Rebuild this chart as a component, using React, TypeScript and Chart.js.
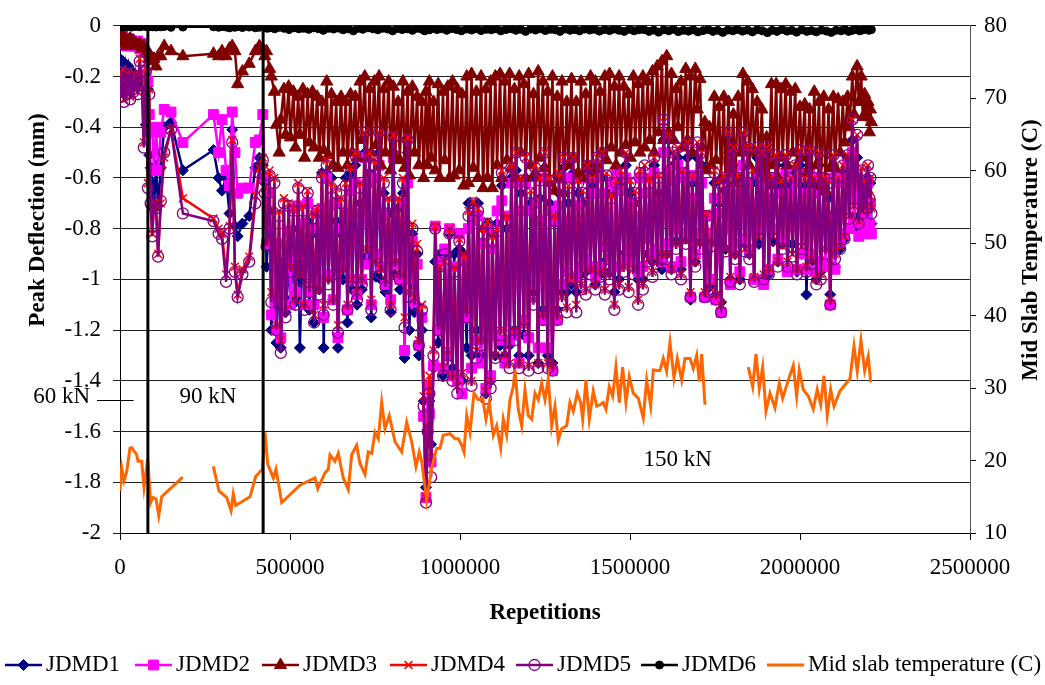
import React, { useEffect, useRef } from 'react';
import { Chart, registerables } from 'chart.js';
import { drawPoint } from 'chart.js/helpers';

Chart.register(...registerables);

const FONT = "'Liberation Serif', 'Times New Roman', serif";

// ---- Data ----
// Repetitions (in thousands) at which JDMD1..JDMD5 were read
const deflRepsThousands = [
  0, 4, 8, 12, 16, 20, 25, 30, 35, 40,
  46, 52, 58, 64, 70, 76, 82, 86, 90, 95,
  100, 106, 112, 120, 130, 150, 185, 275, 290, 300,
  312, 322, 330, 338, 346, 360, 380, 398, 410, 420,
  426, 431, 440, 445, 454, 460, 468, 473, 482, 487,
  496, 501, 510, 516, 524, 529, 538, 543, 552, 557,
  566, 571, 580, 586, 594, 599, 608, 613, 622, 627,
  636, 641, 650, 656, 664, 669, 678, 683, 692, 697,
  706, 711, 720, 726, 734, 739, 748, 753, 762, 767,
  776, 781, 790, 796, 804, 809, 818, 823, 832, 837,
  846, 851, 860, 866, 874, 879, 888, 893, 900, 905,
  910, 915, 922, 927, 936, 941, 950, 955, 964, 969,
  978, 983, 992, 998, 1006, 1011, 1020, 1025, 1034, 1039,
  1048, 1053, 1062, 1068, 1076, 1081, 1090, 1095, 1104, 1109,
  1118, 1123, 1132, 1138, 1146, 1151, 1160, 1165, 1174, 1179,
  1188, 1193, 1202, 1208, 1216, 1221, 1230, 1235, 1244, 1249,
  1258, 1263, 1272, 1278, 1286, 1291, 1300, 1305, 1314, 1319,
  1328, 1333, 1342, 1348, 1356, 1361, 1370, 1375, 1384, 1389,
  1398, 1403, 1412, 1418, 1426, 1431, 1440, 1445, 1454, 1459,
  1468, 1473, 1482, 1488, 1496, 1501, 1510, 1515, 1524, 1529,
  1538, 1543, 1552, 1558, 1566, 1571, 1580, 1585, 1594, 1599,
  1608, 1613, 1622, 1628, 1636, 1641, 1650, 1655, 1664, 1669,
  1678, 1683, 1692, 1698, 1706, 1711, 1720, 1725, 1734, 1739,
  1748, 1753, 1762, 1768, 1776, 1781, 1790, 1795, 1804, 1809,
  1818, 1823, 1832, 1838, 1846, 1851, 1860, 1865, 1874, 1879,
  1888, 1893, 1902, 1908, 1916, 1921, 1930, 1935, 1944, 1949,
  1958, 1963, 1972, 1978, 1986, 1991, 2000, 2005, 2014, 2019,
  2028, 2033, 2042, 2048, 2056, 2061, 2070, 2075, 2084, 2089,
  2098, 2103, 2112, 2118, 2126, 2131, 2140, 2145, 2154, 2159,
  2168, 2173, 2180, 2185, 2190, 2195, 2200, 2204, 2207, 2210,
];

const jdmd1 = [
  -0.13, -0.16, -0.14, -0.18, -0.15, -0.2, -0.16, -0.22, -0.18, -0.24,
  -0.2, -0.24, -0.19, -0.24, -0.22, -0.39, -0.25, -0.51, -0.56, -0.62,
  -0.72, -0.55, -0.71, -0.56, -0.4, -0.38, -0.57, -0.49, -0.6, -0.65,
  -0.6, -0.74, -0.41, -0.79, -0.83, -0.78, -0.75, -0.56, -0.52, -0.55,
  -0.62, -0.95, -0.73, -1.2, -0.95, -1.25, -0.93, -1.27, -0.98, -1.13,
  -0.93, -1.08, -0.9, -1.09, -0.8, -1.27, -0.78, -1.1, -0.77, -1.12,
  -0.82, -1.17, -0.9, -1.04, -0.58, -1.27, -0.58, -0.99, -0.6, -1.08,
  -0.77, -1.27, -0.82, -1.0, -0.6, -1.17, -0.58, -1.04, -0.55, -1.1,
  -0.7, -1.04, -0.5, -0.91, -0.58, -1.15, -0.6, -0.99, -0.5, -1.0,
  -0.66, -1.05, -0.74, -1.13, -0.5, -0.98, -0.72, -1.04, -0.66, -1.31,
  -0.5, -1.2, -0.82, -1.13, -0.9, -1.3, -1.2, -1.48, -1.82, -1.6,
  -1.48, -1.65, -1.35, -0.93, -1.25, -0.9, -1.38, -0.9, -1.3, -0.82,
  -1.35, -0.9, -1.4, -0.88, -1.4, -0.9, -1.27, -0.7, -1.3, -0.75,
  -1.2, -0.7, -1.3, -0.8, -1.45, -0.78, -1.4, -0.82, -1.3, -0.78,
  -1.26, -0.63, -1.3, -0.8, -1.26, -0.6, -1.2, -0.57, -1.3, -0.66,
  -1.22, -0.6, -1.3, -0.7, -1.05, -0.6, -1.33, -0.68, -1.12, -0.56,
  -1.3, -0.7, -1.33, -0.72, -1.12, -0.66, -1.05, -0.56, -1.05, -0.7,
  -1.02, -0.58, -1.05, -0.66, -0.98, -0.7, -0.97, -0.58, -0.96, -0.63,
  -1.02, -0.58, -0.98, -0.6, -0.93, -0.66, -0.97, -0.66, -1.05, -0.6,
  -1.0, -0.63, -0.9, -0.55, -0.93, -0.66, -0.9, -0.7, -1.0, -0.6,
  -1.0, -0.6, -0.9, -0.6, -0.93, -0.55, -0.9, -0.66, -0.96, -0.45,
  -0.9, -0.5, -0.96, -0.55, -0.85, -0.52, -0.96, -0.58, -0.84, -0.52,
  -1.08, -0.62, -0.93, -0.52, -0.85, -0.55, -1.06, -0.75, -1.03, -0.85,
  -0.62, -1.06, -0.7, -1.09, -0.65, -0.88, -0.5, -1.0, -0.55, -0.9,
  -0.6, -1.0, -0.5, -0.86, -0.55, -0.9, -0.62, -1.0, -0.52, -0.86,
  -0.55, -1.0, -0.52, -0.98, -0.63, -0.85, -0.55, -0.93, -0.63, -0.86,
  -0.55, -0.96, -0.63, -0.86, -0.58, -0.97, -0.55, -0.9, -0.63, -1.06,
  -0.55, -0.93, -0.63, -1.0, -0.55, -0.97, -0.62, -0.93, -0.68, -1.06,
  -0.55, -0.95, -0.62, -0.88, -0.58, -0.84, -0.52, -0.8, -0.45, -0.75,
  -0.52, -0.8, -0.62, -0.78, -0.66, -0.78, -0.6, -0.72, -0.62, -0.78,
];

const jdmd2 = [
  -0.05, -0.07, -0.04, -0.06, -0.05, -0.08, -0.05, -0.07, -0.06, -0.08,
  -0.08, -0.06, -0.09, -0.07, -0.1, -0.19, -0.22, -0.35, -0.42, -0.41,
  -0.57, -0.4, -0.57, -0.42, -0.33, -0.34, -0.46, -0.35, -0.5, -0.37,
  -0.57, -0.63, -0.34, -0.5, -0.66, -0.64, -0.64, -0.46, -0.45, -0.35,
  -0.6, -0.86, -0.66, -1.14, -0.9, -1.2, -0.86, -1.23, -0.95, -1.1,
  -0.81, -1.1, -0.72, -1.05, -0.71, -0.9, -0.78, -1.1, -0.7, -1.05,
  -0.8, -1.1, -0.74, -1.0, -0.72, -1.15, -0.6, -0.98, -0.71, -1.08,
  -0.7, -1.23, -0.8, -0.95, -0.74, -1.12, -0.65, -1.0, -0.62, -1.06,
  -0.74, -1.0, -0.52, -0.94, -0.62, -1.1, -0.6, -0.9, -0.55, -0.95,
  -0.75, -1.02, -0.8, -1.08, -0.52, -0.94, -0.78, -1.0, -0.7, -1.28,
  -0.62, -1.0, -0.85, -1.09, -0.94, -1.26, -1.15, -1.54, -1.86, -1.42,
  -1.53, -1.72, -1.34, -0.79, -1.2, -0.93, -1.35, -0.88, -1.3, -0.8,
  -1.38, -0.95, -1.4, -0.82, -1.45, -0.93, -1.15, -0.8, -1.35, -0.77,
  -1.24, -0.75, -1.33, -0.86, -1.43, -0.8, -1.38, -0.88, -1.22, -0.73,
  -1.24, -0.69, -1.33, -0.75, -1.24, -0.62, -1.22, -0.62, -1.33, -0.73,
  -1.16, -0.62, -1.23, -0.73, -1.02, -0.7, -1.27, -0.77, -1.16, -0.6,
  -1.27, -0.73, -1.36, -0.77, -1.16, -0.71, -1.02, -0.6, -0.97, -0.77,
  -0.99, -0.6, -0.99, -0.71, -0.95, -0.77, -0.92, -0.6, -0.95, -0.66,
  -0.99, -0.6, -0.95, -0.66, -0.87, -0.73, -0.92, -0.62, -0.95, -0.58,
  -0.95, -0.65, -0.92, -0.6, -0.88, -0.7, -0.93, -0.75, -0.97, -0.6,
  -0.95, -0.66, -0.84, -0.6, -0.9, -0.58, -0.88, -0.7, -0.93, -0.5,
  -0.86, -0.57, -0.95, -0.61, -0.8, -0.55, -0.93, -0.6, -0.82, -0.59,
  -1.07, -0.68, -0.9, -0.59, -0.82, -0.62, -1.07, -0.75, -1.0, -0.82,
  -0.68, -1.08, -0.74, -1.13, -0.68, -0.8, -0.53, -1.02, -0.58, -0.86,
  -0.66, -0.97, -0.55, -0.84, -0.62, -0.88, -0.7, -1.0, -0.58, -0.8,
  -0.6, -1.02, -0.53, -0.96, -0.68, -0.8, -0.6, -0.92, -0.66, -0.84,
  -0.58, -0.97, -0.66, -0.79, -0.62, -0.96, -0.58, -0.9, -0.66, -0.96,
  -0.58, -0.9, -0.66, -0.97, -0.6, -0.93, -0.65, -0.95, -0.75, -1.1,
  -0.6, -0.96, -0.62, -0.85, -0.6, -0.82, -0.55, -0.8, -0.5, -0.78,
  -0.6, -0.83, -0.68, -0.8, -0.72, -0.82, -0.62, -0.78, -0.7, -0.82,
];

const jdmd3 = [
  -0.05, -0.06, -0.04, -0.07, -0.05, -0.08, -0.06, -0.05, -0.07, -0.06,
  -0.07, -0.08, -0.07, -0.09, -0.08, -0.11, -0.1, -0.13, -0.12, -0.14,
  -0.13, -0.16, -0.12, -0.12, -0.08, -0.1, -0.12, -0.11, -0.12, -0.1,
  -0.12, -0.09, -0.08, -0.1, -0.23, -0.18, -0.15, -0.1, -0.08, -0.09,
  -0.12, -0.1, -0.17, -0.2, -0.26, -0.39, -0.5, -0.37, -0.25, -0.43,
  -0.24, -0.44, -0.26, -0.48, -0.28, -0.43, -0.25, -0.52, -0.27, -0.46,
  -0.26, -0.48, -0.28, -0.52, -0.3, -0.49, -0.22, -0.51, -0.27, -0.55,
  -0.3, -0.56, -0.28, -0.5, -0.3, -0.55, -0.27, -0.5, -0.28, -0.52,
  -0.22, -0.45, -0.2, -0.52, -0.25, -0.5, -0.22, -0.47, -0.2, -0.55,
  -0.25, -0.5, -0.22, -0.57, -0.24, -0.52, -0.3, -0.53, -0.22, -0.56,
  -0.26, -0.59, -0.24, -0.5, -0.28, -0.55, -0.3, -0.6, -0.26, -0.55,
  -0.22, -0.52, -0.3, -0.57, -0.23, -0.6, -0.26, -0.53, -0.24, -0.6,
  -0.22, -0.59, -0.25, -0.57, -0.27, -0.63, -0.2, -0.62, -0.19, -0.56,
  -0.26, -0.6, -0.2, -0.64, -0.25, -0.6, -0.22, -0.64, -0.2, -0.55,
  -0.19, -0.6, -0.22, -0.53, -0.19, -0.56, -0.25, -0.6, -0.2, -0.5,
  -0.23, -0.6, -0.19, -0.55, -0.27, -0.58, -0.18, -0.52, -0.22, -0.56,
  -0.26, -0.62, -0.2, -0.65, -0.28, -0.6, -0.22, -0.66, -0.3, -0.55,
  -0.21, -0.52, -0.3, -0.58, -0.22, -0.6, -0.27, -0.55, -0.2, -0.58,
  -0.22, -0.55, -0.26, -0.5, -0.2, -0.53, -0.19, -0.48, -0.24, -0.55,
  -0.2, -0.5, -0.24, -0.47, -0.27, -0.52, -0.2, -0.46, -0.23, -0.5,
  -0.2, -0.48, -0.22, -0.45, -0.18, -0.5, -0.16, -0.42, -0.14, -0.45,
  -0.12, -0.42, -0.19, -0.45, -0.25, -0.4, -0.22, -0.48, -0.17, -0.45,
  -0.2, -0.5, -0.17, -0.33, -0.21, -0.48, -0.38, -0.57, -0.4, -0.55,
  -0.28, -0.53, -0.32, -0.6, -0.28, -0.61, -0.3, -0.58, -0.35, -0.62,
  -0.28, -0.5, -0.19, -0.48, -0.22, -0.55, -0.25, -0.5, -0.3, -0.56,
  -0.33, -0.58, -0.44, -0.6, -0.23, -0.55, -0.23, -0.6, -0.25, -0.52,
  -0.23, -0.55, -0.26, -0.5, -0.25, -0.55, -0.32, -0.52, -0.31, -0.58,
  -0.33, -0.61, -0.26, -0.55, -0.3, -0.63, -0.28, -0.65, -0.33, -0.56,
  -0.28, -0.56, -0.29, -0.5, -0.3, -0.46, -0.28, -0.4, -0.2, -0.35,
  -0.16, -0.3, -0.2, -0.36, -0.27, -0.35, -0.3, -0.42, -0.33, -0.38,
];

const jdmd4 = [
  -0.19, -0.27, -0.17, -0.29, -0.21, -0.26, -0.18, -0.28, -0.2, -0.25,
  -0.19, -0.26, -0.13, -0.21, -0.46, -0.17, -0.62, -0.25, -0.72, -0.82,
  -0.7, -0.71, -0.9, -0.7, -0.52, -0.41, -0.68, -0.76, -0.8, -0.82,
  -0.98, -0.79, -0.45, -0.95, -1.06, -0.96, -0.91, -0.67, -0.56, -0.52,
  -0.64, -0.85, -0.57, -1.05, -0.6, -1.18, -0.73, -1.24, -0.68, -1.12,
  -0.7, -0.95, -0.72, -1.08, -0.62, -0.98, -0.71, -1.1, -0.65, -1.02,
  -0.74, -1.14, -0.72, -1.04, -0.58, -1.1, -0.53, -1.0, -0.62, -1.08,
  -0.64, -1.18, -0.68, -0.96, -0.62, -1.1, -0.56, -1.0, -0.5, -1.05,
  -0.62, -1.0, -0.42, -0.88, -0.5, -1.08, -0.53, -0.93, -0.42, -0.96,
  -0.6, -1.0, -0.68, -1.1, -0.43, -0.93, -0.68, -0.98, -0.6, -1.15,
  -0.44, -1.05, -0.78, -1.07, -0.86, -1.24, -1.1, -1.46, -1.86, -1.58,
  -1.38, -1.7, -1.28, -0.79, -1.08, -0.95, -1.35, -0.93, -1.28, -0.8,
  -1.38, -0.95, -1.42, -0.84, -1.37, -0.9, -1.12, -0.73, -1.4, -0.69,
  -1.28, -0.72, -1.24, -0.8, -1.44, -0.77, -1.4, -0.83, -1.3, -0.8,
  -1.2, -0.57, -1.3, -0.75, -1.33, -0.55, -1.2, -0.5, -1.33, -0.6,
  -1.18, -0.52, -1.34, -0.65, -1.08, -0.55, -1.33, -0.6, -1.14, -0.5,
  -1.33, -0.6, -1.34, -0.75, -1.14, -0.58, -1.07, -0.52, -1.11, -0.63,
  -1.0, -0.52, -1.1, -0.61, -1.02, -0.65, -1.04, -0.55, -0.96, -0.6,
  -1.02, -0.52, -0.97, -0.5, -1.04, -0.58, -0.98, -0.67, -1.1, -0.61,
  -1.02, -0.57, -0.95, -0.5, -1.03, -0.61, -0.96, -0.65, -1.08, -0.57,
  -1.02, -0.55, -0.92, -0.6, -0.97, -0.52, -0.93, -0.59, -0.9, -0.38,
  -0.9, -0.43, -0.96, -0.5, -0.86, -0.48, -0.98, -0.57, -0.85, -0.46,
  -1.05, -0.59, -0.93, -0.46, -0.86, -0.5, -1.05, -0.74, -1.03, -0.86,
  -0.57, -1.06, -0.61, -1.1, -0.59, -0.88, -0.42, -0.99, -0.48, -0.9,
  -0.59, -1.0, -0.42, -0.88, -0.48, -0.9, -0.57, -0.99, -0.48, -0.83,
  -0.5, -0.98, -0.48, -0.96, -0.6, -0.83, -0.51, -0.93, -0.61, -0.87,
  -0.51, -0.93, -0.6, -0.9, -0.55, -0.96, -0.49, -0.87, -0.6, -0.95,
  -0.49, -0.92, -0.6, -1.0, -0.5, -0.98, -0.6, -0.88, -0.61, -1.08,
  -0.51, -0.9, -0.6, -0.87, -0.55, -0.83, -0.51, -0.75, -0.37, -0.71,
  -0.43, -0.77, -0.56, -0.73, -0.61, -0.71, -0.55, -0.67, -0.6, -0.72,
];

const jdmd5 = [
  -0.2, -0.28, -0.18, -0.3, -0.22, -0.27, -0.19, -0.29, -0.21, -0.26,
  -0.2, -0.27, -0.14, -0.22, -0.48, -0.18, -0.64, -0.27, -0.7, -0.83,
  -0.69, -0.72, -0.91, -0.69, -0.5, -0.41, -0.74, -0.77, -0.82, -0.84,
  -1.01, -0.8, -0.46, -0.97, -1.07, -0.98, -0.93, -0.7, -0.58, -0.53,
  -0.66, -0.87, -0.59, -1.09, -0.62, -1.2, -0.75, -1.29, -0.7, -1.15,
  -0.71, -0.97, -0.73, -1.1, -0.64, -1.0, -0.73, -1.12, -0.66, -1.05,
  -0.76, -1.17, -0.73, -1.06, -0.6, -1.14, -0.55, -1.02, -0.64, -1.1,
  -0.66, -1.21, -0.7, -0.98, -0.63, -1.12, -0.58, -1.03, -0.51, -1.08,
  -0.64, -1.02, -0.42, -0.9, -0.51, -1.12, -0.55, -0.95, -0.42, -0.98,
  -0.62, -1.03, -0.7, -1.12, -0.44, -0.95, -0.7, -1.0, -0.62, -1.19,
  -0.45, -1.07, -0.8, -1.1, -0.89, -1.26, -1.12, -1.5, -1.88, -1.6,
  -1.45, -1.78, -1.3, -0.8, -1.2, -0.95, -1.38, -0.9, -1.34, -0.82,
  -1.4, -0.97, -1.45, -0.85, -1.39, -0.92, -1.15, -0.75, -1.42, -0.7,
  -1.31, -0.73, -1.26, -0.82, -1.47, -0.78, -1.43, -0.85, -1.31, -0.81,
  -1.22, -0.58, -1.31, -0.77, -1.35, -0.56, -1.24, -0.5, -1.35, -0.61,
  -1.2, -0.52, -1.36, -0.66, -1.1, -0.56, -1.35, -0.61, -1.16, -0.5,
  -1.35, -0.61, -1.36, -0.77, -1.16, -0.6, -1.09, -0.52, -1.13, -0.64,
  -1.0, -0.52, -1.13, -0.62, -1.04, -0.66, -1.06, -0.55, -0.98, -0.6,
  -1.04, -0.52, -0.99, -0.5, -1.06, -0.59, -1.0, -0.68, -1.12, -0.62,
  -1.04, -0.58, -0.97, -0.5, -1.05, -0.62, -0.98, -0.66, -1.1, -0.58,
  -1.04, -0.55, -0.93, -0.62, -0.99, -0.52, -0.95, -0.6, -0.92, -0.37,
  -0.92, -0.43, -0.98, -0.5, -0.88, -0.48, -1.0, -0.58, -0.86, -0.46,
  -1.07, -0.6, -0.95, -0.46, -0.88, -0.5, -1.07, -0.75, -1.05, -0.87,
  -0.58, -1.08, -0.62, -1.13, -0.6, -0.89, -0.42, -1.01, -0.48, -0.92,
  -0.6, -1.02, -0.42, -0.89, -0.48, -0.92, -0.58, -1.01, -0.48, -0.84,
  -0.5, -1.0, -0.48, -0.98, -0.6, -0.84, -0.51, -0.95, -0.62, -0.88,
  -0.51, -0.95, -0.6, -0.91, -0.55, -0.98, -0.49, -0.88, -0.6, -0.97,
  -0.49, -0.94, -0.6, -1.02, -0.5, -1.0, -0.6, -0.9, -0.62, -1.1,
  -0.51, -0.92, -0.6, -0.88, -0.55, -0.84, -0.51, -0.76, -0.37, -0.72,
  -0.43, -0.78, -0.57, -0.74, -0.62, -0.72, -0.55, -0.68, -0.6, -0.74,
];

// JDMD6 was read on a coarser set of repetitions
const jdmd6Reps = [
  0, 4000, 8000, 12000, 16000, 20000, 25000, 30000, 35000, 40000,
  46000, 52000, 58000, 64000, 70000, 76000, 82000, 86000, 90000, 95000,
  100000, 106000, 112000, 120000, 130000, 150000, 185000, 275000, 290000, 300000,
  312000, 322000, 330000, 338000, 346000, 360000, 380000, 398000, 410000, 420000,
  426000, 433000, 440000, 455000, 468000, 482000, 497000, 512000, 526000, 540000,
  555000, 570000, 584000, 598000, 613000, 628000, 642000, 656000, 671000, 686000,
  700000, 714000, 729000, 744000, 758000, 772000, 787000, 802000, 816000, 830000,
  845000, 860000, 874000, 888000, 896000, 903000, 910000, 918000, 932000, 946000,
  961000, 976000, 990000, 1004000, 1019000, 1034000, 1048000, 1062000, 1077000, 1092000,
  1106000, 1120000, 1135000, 1150000, 1164000, 1178000, 1193000, 1208000, 1222000, 1236000,
  1251000, 1266000, 1280000, 1294000, 1309000, 1324000, 1338000, 1352000, 1367000, 1382000,
  1396000, 1410000, 1425000, 1440000, 1454000, 1468000, 1483000, 1498000, 1512000, 1526000,
  1541000, 1556000, 1570000, 1584000, 1599000, 1614000, 1628000, 1642000, 1657000, 1672000,
  1686000, 1700000, 1715000, 1730000, 1744000, 1758000, 1773000, 1788000, 1802000, 1816000,
  1831000, 1846000, 1860000, 1874000, 1889000, 1904000, 1918000, 1932000, 1947000, 1962000,
  1976000, 1990000, 2005000, 2020000, 2034000, 2048000, 2063000, 2078000, 2092000, 2106000,
  2121000, 2132000, 2143000, 2154000, 2165000, 2176000, 2186000, 2195000, 2203000, 2210000,
];

const jdmd6 = [
  0, -0.005, 0, -0.003, 0, -0.004, 0, -0.002, -0.005, 0,
  -0.003, 0, -0.004, -0.002, 0, -0.003, -0.005, -0.002, 0, -0.004,
  -0.003, -0.005, -0.002, -0.004, -0.003, -0.006, -0.005, -0.004, -0.006, -0.003,
  -0.005, -0.008, -0.004, -0.006, -0.003, -0.007, -0.005, -0.008, -0.006, -0.004,
  -0.006, -0.01, -0.008, -0.012, -0.006, -0.01, -0.015, -0.008, -0.012, -0.01,
  -0.014, -0.008, -0.012, -0.018, -0.01, -0.013, -0.009, -0.016, -0.012, -0.02,
  -0.01, -0.014, -0.008, -0.012, -0.016, -0.01, -0.013, -0.02, -0.011, -0.015,
  -0.012, -0.018, -0.01, -0.014, -0.02, -0.012, -0.016, -0.01, -0.015, -0.012,
  -0.018, -0.011, -0.015, -0.02, -0.013, -0.017, -0.012, -0.019, -0.014, -0.016,
  -0.012, -0.02, -0.015, -0.012, -0.018, -0.014, -0.022, -0.013, -0.017, -0.012,
  -0.019, -0.014, -0.016, -0.022, -0.013, -0.018, -0.015, -0.02, -0.013, -0.017,
  -0.014, -0.021, -0.015, -0.019, -0.013, -0.018, -0.022, -0.014, -0.02, -0.016,
  -0.015, -0.022, -0.017, -0.025, -0.016, -0.02, -0.014, -0.023, -0.018, -0.021,
  -0.016, -0.024, -0.019, -0.015, -0.022, -0.018, -0.026, -0.017, -0.02, -0.015,
  -0.021, -0.017, -0.024, -0.016, -0.02, -0.027, -0.018, -0.022, -0.015, -0.021,
  -0.018, -0.025, -0.016, -0.022, -0.019, -0.024, -0.017, -0.021, -0.026, -0.018,
  -0.02, -0.015, -0.022, -0.018, -0.014, -0.02, -0.016, -0.012, -0.018, -0.015,
];

const tempReps = [
  0, 5000, 11800, 19700, 29400, 34400, 49100, 53000, 63800, 70600,
  81500, 90300, 97000, 106000, 114000, 122600, 184400, 230000,
  274400, 291200, 313800, 326500, 333200, 340300, 382400, 399100, 418500, 426500,
  434400, 450900, 458800, 475600, 529400, 573500, 581500, 602900, 612700, 617600,
  632300, 642000, 656700, 671400, 681400, 696100, 705800, 720500, 730300, 740300,
  750000, 759700, 769700, 779400, 792000, 808800, 828500, 843200, 857900, 870500,
  880300, 887300, 902000, 916700, 931400, 941100, 950800, 970500, 985200, 995000,
  1005000, 1011700, 1019700, 1029400, 1041100, 1053800, 1066700, 1076400, 1086100, 1097900,
  1107900, 1119700, 1127300, 1137300, 1147000, 1156700, 1161700, 1171400, 1181400, 1191100,
  1200800, 1210800, 1220500, 1230200, 1240200, 1249900, 1259600, 1269600, 1279300, 1289000,
  1299000, 1313700, 1323500, 1333200, 1344900, 1354900, 1360800, 1370500, 1380200, 1392000,
  1402000, 1411700, 1421400, 1429300, 1439100, 1449000, 1458700, 1468500, 1478400, 1488100,
  1497900, 1509600, 1524300, 1539000, 1549000, 1560800, 1568500, 1588100, 1597900, 1607800,
  1617600, 1629300, 1639100, 1652000, 1661700, 1676400, 1686100, 1696100, 1703800, 1710800,
  1720500, 1780000,
  1847800, 1860800, 1870500, 1880200, 1890200, 1899900, 1911700, 1926400, 1939000, 1949000,
  1965500, 1980200, 1990200, 1997800, 2009600, 2024300, 2039000, 2050800, 2060800, 2070500,
  2080200, 2090200, 2099900, 2117500, 2147000, 2158700, 2168400, 2179300, 2190200, 2200800,
  2207800,
];

const tempValues = [
  15.8, 19.0, 17.2, 18.5, 21.7, 21.8, 20.8, 19.9, 19.9, 16.3,
  20.2, 14.2, 14.9, 14.7, 12.4, 15.0, 17.7, null,
  19.2, 15.8, 14.9, 13.1, 15.4, 13.8, 15.0, 17.8, 18.8, 23.9,
  19.5, 17.6, 18.8, 14.2, 16.6, 17.6, 16.1, 18.3, 18.8, 20.8,
  19.9, 21.0, 17.6, 16.0, 20.8, 22.1, 19.6, 18.1, 21.2, 21.0,
  23.9, 23.0, 28.0, 24.4, 26.2, 22.6, 21.2, 25.3, 22.6, 19.2,
  21.2, 19.9, 14.5, 19.0, 21.7, 21.7, 23.5, 23.7, 23.0, 23.0,
  22.1, 21.2, 26.2, 23.9, 29.3, 28.4, 28.6, 25.7, 28.0, 23.5,
  24.8, 21.7, 25.7, 23.5, 28.4, 30.2, 32.5, 27.1, 24.8, 29.8,
  26.2, 25.7, 29.3, 28.4, 30.7, 28.4, 31.3, 24.8, 27.5, 22.8,
  24.4, 24.8, 28.0, 26.8, 29.3, 28.0, 25.7, 31.1, 25.7, 29.6,
  27.5, 27.7, 28.0, 27.1, 30.2, 28.9, 32.9, 28.0, 32.9, 28.0,
  31.6, 29.3, 28.6, 25.9, 31.1, 27.5, 32.5, 32.4, 34.1, 32.3,
  36.3, 31.4, 34.1, 31.1, 34.1, 34.1, 32.7, 34.5, 30.9, 34.7,
  27.7, null,
  32.9, 30.2, 34.7, 29.9, 32.9, 26.8, 29.3, 27.3, 30.7, 28.6,
  31.1, 33.1, 28.9, 32.5, 29.8, 28.9, 27.1, 29.8, 27.7, 31.7,
  26.3, 29.8, 27.5, 29.6, 31.3, 35.8, 32.3, 36.6, 32.4, 34.4,
  30.8,
];

const loadChangeReps = [82000, 421000];
const xTicks = [0, 500000, 1000000, 1500000, 2000000, 2500000];

const seriesNames = ['JDMD1', 'JDMD2', 'JDMD3', 'JDMD4', 'JDMD5', 'JDMD6', 'Mid slab temperature (C)'];

type Style = { color: string; fill: string; point: any; radius: number; bw: number };
const styles: Style[] = [
  { color: '#000080', fill: '#000080', point: 'rectRot', radius: 5.5, bw: 1 },
  { color: '#FF00FF', fill: '#FF00FF', point: 'rect', radius: 7, bw: 1 },
  { color: '#800000', fill: '#800000', point: 'triangle', radius: 7, bw: 1 },
  { color: '#FF0000', fill: '#FF0000', point: 'crossRot', radius: 5.5, bw: 1.5 },
  { color: '#800080', fill: 'rgba(0,0,0,0)', point: 'circle', radius: 5.5, bw: 1.3 },
  { color: '#000000', fill: '#000000', point: 'circle', radius: 4, bw: 1 },
  { color: '#FF6600', fill: '#FF6600', point: false, radius: 0, bw: 0 },
];

const legendStartX = [5, 135, 262, 390, 516, 641, 767];

const textPlugin = {
  id: 'textPlugin',
  afterDraw(chart: any) {
    const ctx: CanvasRenderingContext2D = chart.ctx;
    const ys = chart.scales.y;
    const xs = chart.scales.x;
    const area = chart.chartArea;
    ctx.save();
    ctx.fillStyle = '#000';
    ctx.textBaseline = 'middle';

    // load labels
    ctx.font = `23px ${FONT}`;
    const yLbl = ys.getPixelForValue(-1.465);
    ctx.textAlign = 'right';
    ctx.fillText('60 kN', 90, yLbl);
    ctx.textAlign = 'left';
    ctx.fillText('90 kN', xs.getPixelForValue(175000), yLbl);
    ctx.fillText('150 kN', xs.getPixelForValue(1540000), ys.getPixelForValue(-1.71));
    ctx.strokeStyle = '#000';
    ctx.lineWidth = 1;
    ctx.beginPath();
    const yLine = Math.round(ys.getPixelForValue(-1.475)) + 0.5;
    ctx.moveTo(97, yLine);
    ctx.lineTo(xs.getPixelForValue(40000), yLine);
    ctx.stroke();

    // axis titles
    ctx.font = `bold 23px ${FONT}`;
    ctx.textAlign = 'center';
    ctx.save();
    ctx.translate(38, 220);
    ctx.rotate(-Math.PI / 2);
    ctx.fillText('Peak Deflection (mm)', 0, 0);
    ctx.restore();
    ctx.save();
    ctx.translate(1031, 250);
    ctx.rotate(-Math.PI / 2);
    ctx.fillText('Mid Slab Temperature (C)', 0, 0);
    ctx.restore();
    ctx.fillText('Repetitions', (area.left + area.right) / 2, 613);

    // legend
    ctx.font = `23px ${FONT}`;
    const ly = 665;
    seriesNames.forEach((name, i) => {
      const s = styles[i];
      const x0 = legendStartX[i];
      ctx.strokeStyle = s.color;
      ctx.lineWidth = i === 6 ? 3 : 2.5;
      ctx.beginPath();
      ctx.moveTo(x0, ly);
      ctx.lineTo(x0 + 37, ly);
      ctx.stroke();
      if (s.point) {
        ctx.fillStyle = s.fill;
        ctx.strokeStyle = s.color;
        ctx.lineWidth = s.bw;
        drawPoint(ctx, { pointStyle: s.point, radius: s.radius, borderWidth: s.bw, rotation: 0 } as any, x0 + 18.5, ly);
      }
      ctx.fillStyle = '#000';
      ctx.textAlign = 'left';
      ctx.fillText(name, x0 + 41, ly);
    });
    ctx.restore();
  },
};

export default function App() {
  const ref = useRef<HTMLCanvasElement>(null);

  useEffect(() => {
    if (!ref.current) return;
    Chart.defaults.font.family = FONT;
    Chart.defaults.font.size = 23;
    Chart.defaults.color = '#000';

    const deflReps = deflRepsThousands.map((k) => k * 1000);
    const defl = [jdmd1, jdmd2, jdmd3, jdmd4, jdmd5];
    const orders = [6, 5, 4, 3, 2];
    const datasets: any[] = defl.map((vals, i) => {
      const s = styles[i];
      return {
        label: seriesNames[i],
        data: deflReps.map((x, k) => ({ x, y: vals[k] })),
        yAxisID: 'y',
        borderColor: s.color,
        backgroundColor: s.fill,
        borderWidth: 2.5,
        pointStyle: s.point,
        pointRadius: s.radius,
        pointBorderColor: s.color,
        pointBackgroundColor: s.fill,
        pointBorderWidth: s.bw,
        tension: 0,
        order: orders[i],
      };
    });
    datasets.push({
      label: seriesNames[5],
      data: jdmd6Reps.map((x, k) => ({ x, y: jdmd6[k] })),
      yAxisID: 'y',
      borderColor: '#000',
      backgroundColor: '#000',
      borderWidth: 2,
      pointStyle: 'circle',
      pointRadius: 4,
      pointBorderColor: '#000',
      pointBackgroundColor: '#000',
      pointBorderWidth: 1,
      tension: 0,
      order: 1,
    });
    datasets.push({
      label: seriesNames[6],
      data: tempReps.map((x, k) => ({ x, y: tempValues[k] })),
      yAxisID: 'y2',
      borderColor: '#FF6600',
      backgroundColor: '#FF6600',
      borderWidth: 3,
      pointRadius: 0,
      spanGaps: false,
      tension: 0,
      order: 0,
    });
    loadChangeReps.forEach((x) => {
      datasets.push({
        label: '',
        data: [{ x, y: 0 }, { x, y: -2 }],
        yAxisID: 'y',
        borderColor: '#000',
        borderWidth: 3,
        pointRadius: 0,
        order: -1,
      });
    });

    const chart = new Chart(ref.current, {
      type: 'line',
      data: { datasets },
      options: {
        responsive: false,
        animation: false,
        devicePixelRatio: 1,
        events: [],
        layout: { padding: { top: 15, left: 0, right: 0, bottom: 92 } },
        plugins: { legend: { display: false }, tooltip: { enabled: false } },
        scales: {
          x: {
            type: 'linear',
            min: 0,
            max: 2500000,
            afterBuildTicks: (scale: any) => {
              scale.ticks = xTicks.map((v) => ({ value: v }));
            },
            ticks: {
              autoSkip: false,
              maxRotation: 0,
              padding: 14,
              callback: (v: any) => String(v),
              font: { size: 23, family: FONT },
              color: '#000',
            },
            grid: { drawOnChartArea: false, drawTicks: true, tickLength: 7, color: '#000' },
            border: { display: true, color: '#000', width: 1 },
            afterFit: (scale: any) => {
              scale.height = 60;
            },
          },
          y: {
            type: 'linear',
            position: 'left',
            min: -2,
            max: 0,
            ticks: {
              stepSize: 0.2,
              padding: 12,
              callback: (v: any) => String(Math.round(Number(v) * 10) / 10),
              font: { size: 23, family: FONT },
              color: '#000',
            },
            grid: { color: '#222', lineWidth: 1, tickLength: 7 },
            border: { display: true, color: '#000', width: 1 },
            afterFit: (scale: any) => {
              scale.width = 120;
            },
          },
          y2: {
            type: 'linear',
            position: 'right',
            min: 10,
            max: 80,
            ticks: {
              stepSize: 10,
              padding: 8,
              font: { size: 23, family: FONT },
              color: '#000',
            },
            grid: { drawOnChartArea: false, drawTicks: true, tickLength: 6, color: '#000' },
            border: { display: true, color: '#555', width: 1 },
            afterFit: (scale: any) => {
              scale.width = 75;
            },
          },
        },
      },
      plugins: [textPlugin],
    });
    return () => chart.destroy();
  }, []);

  return (
    <div style={{ position: 'absolute', left: 0, top: 0, width: 1045, height: 685, background: '#fff' }}>
      <canvas ref={ref} width={1045} height={685} style={{ display: 'block', width: 1045, height: 685 }} />
    </div>
  );
}
